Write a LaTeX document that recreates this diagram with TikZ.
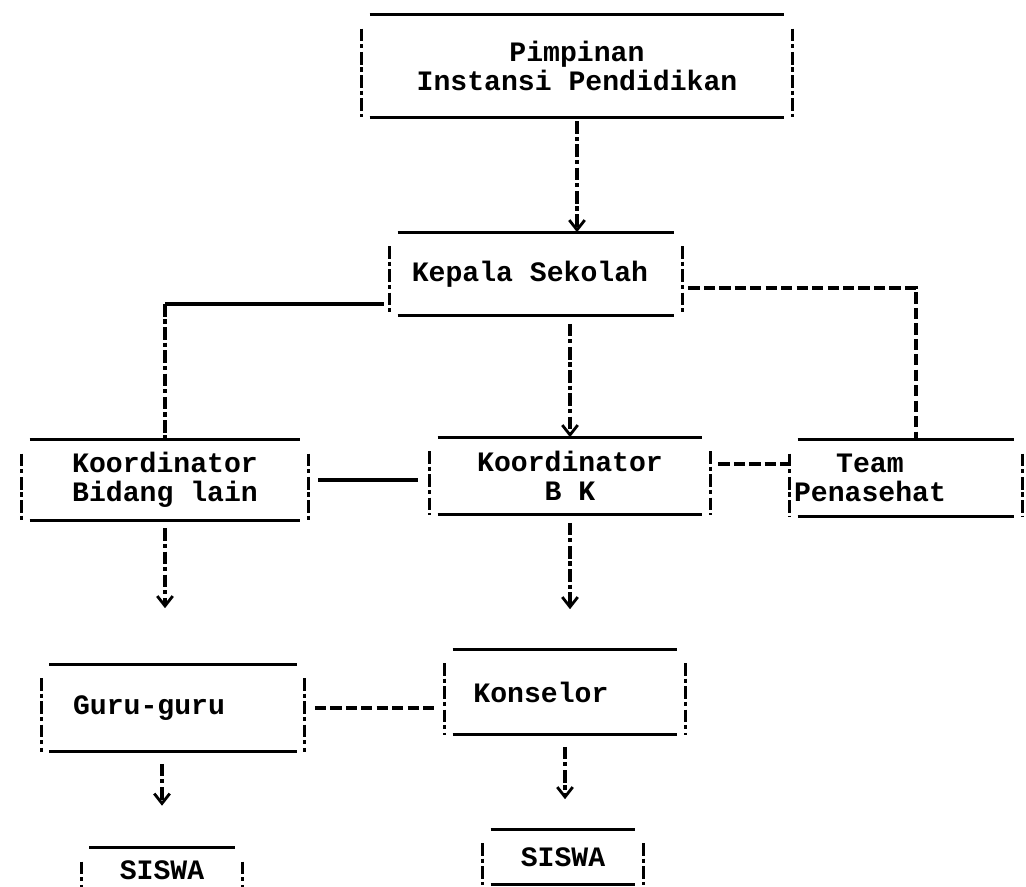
\documentclass[tikz,border=0pt]{standalone}
\usepackage{fontspec}
\newfontfamily\typewriter{Liberation Mono}
\usetikzlibrary{arrows.meta}

\begin{document}
\begin{tikzpicture}[
    x=0.025cm, y=-0.025cm,
    orgbox/.style={inner sep=0pt, align=center, font=\typewriter\bfseries\fontsize{20pt}{21pt}\selectfont},
    rule/.style={line width=2.2pt},
    bang/.style={line width=2.2pt, dash pattern=on 9pt off 2pt on 3pt off 2.5pt},
    dashline/.style={line width=2.2pt, dash pattern=on 8pt off 3pt},
    flow/.style={bang, -{Straight Barb[length=7pt,width=11pt,line width=2pt]}}
]
    \useasboundingbox (0,0) rectangle (1026,887);

    % Boxes of the chart
    \node[orgbox, minimum width=10.75cm, minimum height=2.55cm] (pimpinan) at (577,66) {Pimpinan\\Instansi Pendidikan};
    \node[orgbox, minimum width=7.3cm, minimum height=2.075cm] (kepala) at (536,274) {Kepala Sekolah\hspace*{0.3cm}};
    \node[orgbox, minimum width=7.15cm, minimum height=2cm] (korbid) at (165,480) {Koordinator\\Bidang lain};
    \node[orgbox, minimum width=7cm, minimum height=1.925cm] (korbk) at (570,476) {Koordinator\\B K};
    \node[orgbox, minimum width=5.8cm, minimum height=1.9cm] (team) at (906,478) {Team\hspace*{1.8cm}\\Penasehat\hspace*{1.8cm}};
    \node[orgbox, minimum width=6.575cm, minimum height=2.175cm] (guru) at (173,708) {Guru-guru\hspace*{1.2cm}};
    \node[orgbox, minimum width=6cm, minimum height=2.125cm] (konselor) at (565,692) {Konselor\hspace*{1.2cm}};
    \node[orgbox, minimum width=4.025cm, minimum height=1.1cm] (siswaA) at (162,870) {SISWA};
    \node[orgbox, minimum width=4cm, minimum height=1.375cm] (siswaB) at (563,857) {SISWA};

    % Typed frame: solid top and bottom, dashed sides
    \foreach \n in {pimpinan,kepala,korbid,korbk,team,guru,konselor,siswaA,siswaB} {
        \draw[rule] ([xshift=0.2cm]\n.north west) -- ([xshift=-0.2cm]\n.north east);
        \draw[rule] ([xshift=0.2cm]\n.south west) -- ([xshift=-0.2cm]\n.south east);
        \draw[bang] ([yshift=-0.35cm]\n.north west) -- (\n.south west);
        \draw[bang] ([yshift=-0.35cm]\n.north east) -- (\n.south east);
    }

    % Lines of command
    \draw[flow, shorten <=0.1cm] (pimpinan.south) -- (pimpinan.south |- kepala.north);
    \draw[rule, shorten <=0.15cm] ([yshift=-0.75cm]kepala.west) -- ([yshift=-0.75cm]kepala.west -| korbid.north) coordinate (bend);
    \draw[bang] (bend) -- (korbid.north);
    \draw[flow, shorten <=0.2cm] (korbk.north |- kepala.south) -- (korbk.north);
    \draw[flow, shorten <=0.2cm, shorten >=1.4cm] (korbid.south) -- (korbid.south |- guru.north);
    \draw[flow, shorten <=0.2cm, shorten >=1.0cm] (korbk.south) -- (korbk.south |- konselor.north);
    \draw[flow, shorten <=0.3cm, shorten >=1.05cm] (siswaA.north |- guru.south) -- (siswaA.north);
    \draw[flow, shorten <=0.3cm, shorten >=0.75cm] (konselor.south) -- (konselor.south |- siswaB.north);

    % Lines of coordination
    \draw[dashline, shorten <=0.15cm] ([yshift=-0.35cm]kepala.east) -| ([xshift=0.25cm]team.north);
    \draw[rule, shorten <=0.25cm, shorten >=0.3cm] (korbid.east) -- (korbid.east -| korbk.west);
    \draw[dashline, shorten <=0.2cm, shorten >=0.05cm] ([yshift=0.3cm]korbk.east) -- ([yshift=0.3cm]korbk.east -| team.west);
    \draw[dashline, shorten <=0.25cm, shorten >=0.25cm] (guru.east) -- (guru.east -| konselor.west);

\end{tikzpicture}
\end{document}
